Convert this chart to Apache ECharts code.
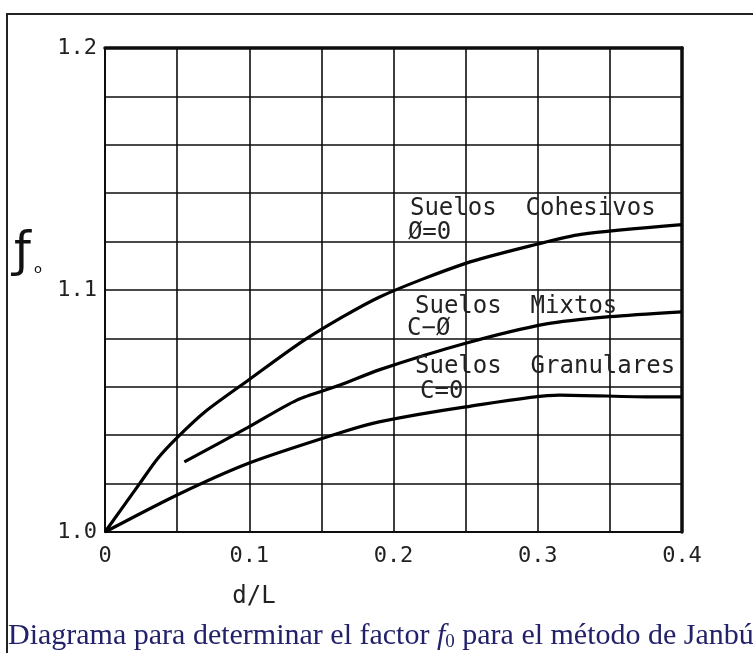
<!DOCTYPE html>
<html>
<head>
<meta charset="utf-8">
<script src="https://cdn.jsdelivr.net/npm/echarts@6/dist/echarts.min.js"></script>
<style>
html,body{margin:0;padding:0;background:#fff;}
#c{width:753px;height:653px;}
</style>
</head>
<body>
<div id="c"></div>
<script>
// ---- data ----
var xTickLabels = ['0', '0.1', '0.2', '0.3', '0.4'];
var yTickLabels = ['1.0', '1.1', '1.2'];

var cohX = [0, 0.024, 0.036, 0.05, 0.07, 0.1, 0.14, 0.19, 0.25, 0.3, 0.33, 0.4];
var cohY = [1.0, 1.020, 1.030, 1.039, 1.050, 1.063, 1.080, 1.097, 1.111, 1.119, 1.123, 1.127];

var mixX = [0.055, 0.0985, 0.133, 0.163, 0.19, 0.25, 0.306, 0.35, 0.4];
var mixY = [1.029, 1.043, 1.0545, 1.0607, 1.067, 1.078, 1.086, 1.089, 1.091];

var graX = [0, 0.05, 0.1, 0.163, 0.19, 0.25, 0.315, 0.38, 0.4];
var graY = [1.0, 1.0153, 1.0285, 1.041, 1.0455, 1.0517, 1.0566, 1.0558, 1.0558];

var annTexts = ['Suelos  Cohesivos', '\u00D8=0', 'Suelos  Mixtos', 'C\u2212\u00D8', 'Suelos  Granulares', 'C=0'];
var annX = [0.2114, 0.210, 0.2149, 0.2094, 0.2149, 0.2184];
var annY = [1.1335, 1.1236, 1.093, 1.0839, 1.0682, 1.0579];

function pairs(xs, ys) { return xs.map(function (x, i) { return [x, ys[i]]; }); }

var chart = echarts.init(document.getElementById('c'), null, {renderer: 'canvas'});
var ink = '#0d0d0d';
var gridLine = {show: true, lineStyle: {color: ink, width: 1.6}};
var mono = '"DejaVu Sans Mono"';

function lineSeries(name, data) {
  return {
    name: name, type: 'line', data: data, smooth: 0.25, symbol: 'none',
    xAxisIndex: 0, yAxisIndex: 0,
    lineStyle: {color: '#000', width: 3.2}, z: 5
  };
}

chart.setOption({
  animation: false,
  backgroundColor: '#fff',
  grid: {left: 105, right: 71, top: 48, bottom: 121},
  xAxis: [{
    type: 'value', min: 0, max: 0.4, interval: 0.1,
    axisLine: {show: true, lineStyle: {color: ink, width: 2}},
    axisTick: {show: false},
    splitLine: gridLine,
    minorTick: {show: false, splitNumber: 2},
    minorSplitLine: gridLine,
    axisLabel: {
      margin: 13, color: '#222', fontFamily: mono, fontSize: 22,
      formatter: function (v, i) { return xTickLabels[i]; }
    }
  }, {
    type: 'value', position: 'top', min: 0, max: 0.4, interval: 0.1,
    axisLine: {show: true, onZero: false, lineStyle: {color: ink, width: 3.5}},
    axisTick: {show: false}, axisLabel: {show: false}, splitLine: {show: false}
  }],
  yAxis: [{
    type: 'value', min: 1.0, max: 1.2, interval: 0.1,
    axisLine: {show: true, lineStyle: {color: ink, width: 2}},
    axisTick: {show: false},
    splitLine: gridLine,
    minorTick: {show: false, splitNumber: 5},
    minorSplitLine: gridLine,
    axisLabel: {
      margin: 8, color: '#222', fontFamily: mono, fontSize: 22,
      formatter: function (v, i) { return yTickLabels[i]; }
    }
  }, {
    type: 'value', position: 'right', min: 1.0, max: 1.2, interval: 0.1,
    axisLine: {show: true, onZero: false, lineStyle: {color: ink, width: 3.5}},
    axisTick: {show: false}, axisLabel: {show: false}, splitLine: {show: false}
  }],
  series: [
    lineSeries('Suelos Cohesivos', pairs(cohX, cohY)),
    lineSeries('Suelos Mixtos', pairs(mixX, mixY)),
    lineSeries('Suelos Granulares', pairs(graX, graY))
  ]
});

var elems = [
  {type: 'polyline', shape: {points: [[7, 653], [7, 14], [753, 14]]},
   style: {stroke: '#222', lineWidth: 2, fill: null}, silent: true},
  {type: 'text', x: 14, y: 254, style: {text: '\u0192', font: '48px "DejaVu Sans"', fill: '#111', textAlign: 'left', textVerticalAlign: 'middle'}},
  {type: 'text', x: 34, y: 270, style: {text: 'o', font: '13px "DejaVu Sans"', fill: '#111', textAlign: 'left', textVerticalAlign: 'middle'}},
  {type: 'text', x: 254, y: 597, style: {text: 'd/L', font: '24px ' + mono, fill: '#222', textAlign: 'center', textVerticalAlign: 'middle'}},
  {type: 'text', x: 8, y: 636, style: {
    text: 'Diagrama para determinar el factor {i|f}{s|0} para el m\u00E9todo de Janb\u00FA.',
    font: '30px "Liberation Serif"', fill: '#22226a', textAlign: 'left', textVerticalAlign: 'middle',
    rich: {
      i: {fontFamily: 'Liberation Serif', fontSize: 30, fontStyle: 'italic', fill: '#22226a', color: '#22226a'},
      s: {fontFamily: 'Liberation Serif', fontSize: 19, fill: '#22226a', color: '#22226a', verticalAlign: 'bottom', padding: [12, 0, 0, 0]}
    }
  }}
];

annTexts.forEach(function (t, i) {
  var p = chart.convertToPixel({xAxisIndex: 0, yAxisIndex: 0}, [annX[i], annY[i]]);
  elems.push({type: 'text', x: p[0], y: p[1], z: 10, style: {
    text: t, font: '24px ' + mono, fill: '#222', textAlign: 'left', textVerticalAlign: 'middle'
  }});
});

chart.setOption({graphic: {elements: elems}});
</script>
</body>
</html>
